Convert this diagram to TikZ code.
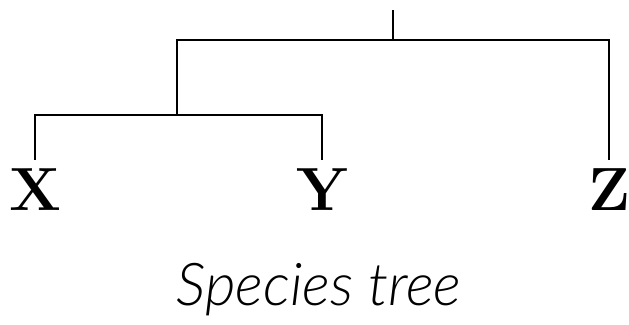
\documentclass[tikz,border=0pt]{standalone}
\usepackage{fontspec}
\newfontfamily\capfont{Lato}[UprightFont=* Light, ItalicFont=* Light Italic]
\usetikzlibrary{positioning}
\tikzset{
  branch/.style={draw=black, line width=2pt, line join=miter},
  leaf/.style={font=\fontsize{61}{61}\selectfont\bfseries, inner xsep=0pt, inner ysep=8pt, anchor=base},
  caption/.style={font=\fontsize{59}{59}\selectfont\capfont\itshape, inner sep=0pt, anchor=base}
}
\begin{document}
\begin{tikzpicture}[x=1pt, y=-1pt]
\useasboundingbox (0,0) rectangle (629,324);
% leaves
\node[leaf] (X) at (35,210) {X};
\node[leaf] (Y) at (322,210) {Y};
\node[leaf] (Z) at (609,210) {Z};
% internal vertices
\coordinate (xy) at (177,115);
\coordinate (xyz) at (393,40);
\coordinate (root) at (393,10);
% branches
\draw[branch] (X.north) |- (xy) -| (Y.north);
\draw[branch] (xy) |- (xyz) -| (Z.north);
\draw[branch] (xyz) -- (root);
\node[caption] (title) at (319,305) {Species tree};
\end{tikzpicture}
\end{document}
